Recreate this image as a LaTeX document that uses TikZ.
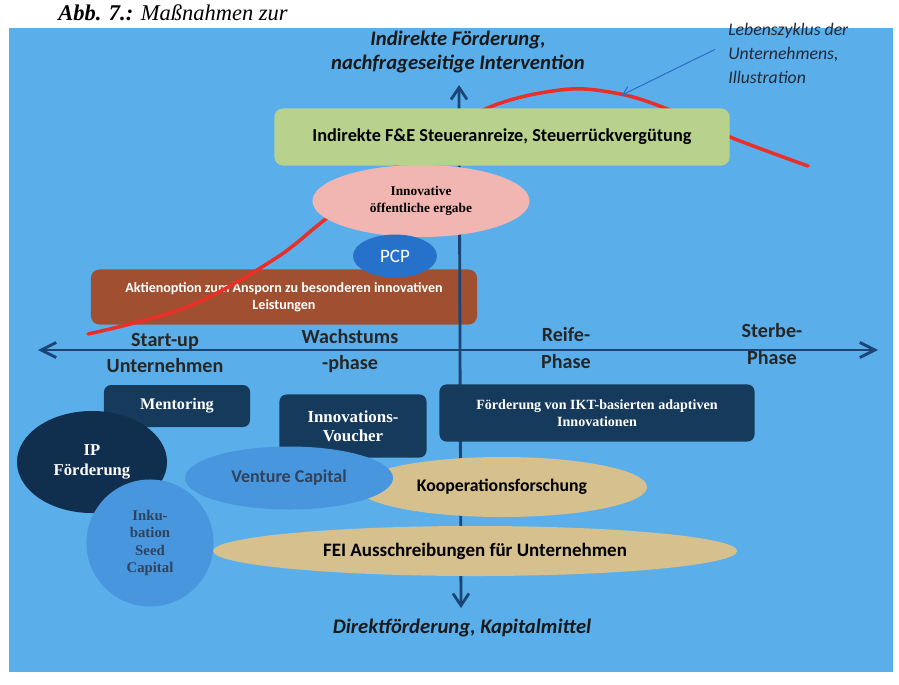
\documentclass[tikz,border=0pt]{standalone}
\usepackage{fontspec}
\setmainfont{Liberation Serif}
\setsansfont{Carlito}
\usetikzlibrary{arrows.meta, shapes.geometric}

\definecolor{bgblue}{RGB}{90,175,235}
\definecolor{axisblue}{RGB}{26,70,118}
\definecolor{navy}{RGB}{22,58,92}
\definecolor{darknavy}{RGB}{16,46,78}
\definecolor{leafgreen}{RGB}{184,210,142}
\definecolor{rosepink}{RGB}{242,182,178}
\definecolor{pcpblue}{RGB}{38,114,202}
\definecolor{rust}{RGB}{160,80,48}
\definecolor{sand}{RGB}{214,192,142}
\definecolor{midblue}{RGB}{72,150,222}
\definecolor{curvered}{RGB}{234,46,40}
\definecolor{slate}{RGB}{48,66,92}
\definecolor{notetext}{RGB}{34,40,56}
\definecolor{notearrowblue}{RGB}{40,110,196}

\tikzset{
  axistitle/.style={font=\sffamily\bfseries\itshape\fontsize{14.7}{17.5}\selectfont, text=black!90, align=center},
  phaselabel/.style={font=\sffamily\bfseries\fontsize{14.3}{19}\selectfont, text=black!85, align=center},
  axisline/.style={draw=axisblue, line width=2pt},
  lifecurve/.style={draw=curvered, line width=2.5pt, line cap=round},
  navybox/.style={fill=navy, rounded corners=5pt, text=white, align=center, inner sep=2pt},
  rustbox/.style={fill=rust, rounded corners=6pt, text=white, align=center,
    font=\sffamily\bfseries\fontsize{10}{12}\selectfont},
  sandoval/.style={ellipse, fill=sand, inner sep=0pt, text=black},
  blueoval/.style={ellipse, fill=midblue, inner sep=0pt, text=slate, align=center},
}

\begin{document}
\begin{tikzpicture}[x=0.025cm, y=-0.025cm]
  \useasboundingbox (0,0) rectangle (899,684);
  % page and blue panel
  \fill[white] (0,0) rectangle (899,684);
  \fill[bgblue] (9,28) rectangle (893,672);
  % caption above the panel
  \node[anchor=base west, inner sep=0pt, font=\itshape\fontsize{16}{18}\selectfont] (abb) at (58,20) {\textbf{Abb. 7.:} Maßnahmen zur};

  % axis titles
  \node[axistitle] (indirekt) at (458,52) {Indirekte Förderung,\\nachfrageseitige Intervention};
  \node[axistitle] (direkt) at (462,628) {Direktförderung, Kapitalmittel};

  % note for the curve
  \node[anchor=north west, align=left, inner sep=0pt, text=notetext,
    font=\sffamily\itshape\fontsize{12.6}{17}\selectfont] (lzyklus) at (728,23) {Lebenszyklus der\\Unternehmens,\\Illustration};

  % stock option box
  \node[rustbox, minimum width=9.65cm, minimum height=1.375cm] (aktie) at (284,297) {Aktienoption zum Ansporn zu besonderen innovativen\\Leistungen};

  % life cycle curve
  \draw[lifecurve] plot[smooth, tension=0.6] coordinates {(88,334) (187,307) (273,260) (327,218) (400,163) (483,110) (560,90) (615,93) (665,108) (730,137) (808,166)};
  \coordinate (curvept) at (622,95);
  \draw[notearrowblue, line width=0.7pt, -{Straight Barb[length=2mm, width=2.5mm]}] ([shift={(-13,-4)}]lzyklus.west) -- (curvept);

  % axes
  \coordinate (vtop) at (459,85);
  \coordinate (vbot) at (461,608);
  \coordinate (hleft) at (38,350);
  \coordinate (hright) at (878,350);
  \draw[axisline, {Straight Barb[length=3mm, width=4mm]}-{Straight Barb[length=3mm, width=4mm]}] (vbot) -- (vtop);
  \draw[axisline, {Straight Barb[length=3.75mm, width=3.75mm]}-{Straight Barb[length=3.75mm, width=3.75mm]}] (hleft) -- (hright);

  % phases
  \node[phaselabel] (startup) at (165,353) {Start-up\\Unternehmen};
  \node[phaselabel] (wachstum) at (350,351) {Wachstums\\-phase};
  \node[phaselabel] (reife) at (566,348) {Reife-\\Phase};
  \node[phaselabel] (sterbe) at (772,344) {Sterbe-\\Phase};

  % upper half: indirect measures
  \node[ellipse, fill=rosepink, minimum width=5.425cm, minimum height=1.8cm, inner sep=0pt, align=center,
    font=\bfseries\fontsize{9.5}{12.5}\selectfont] (vergabe) at (421,201) {Innovative\\öffentliche ergabe};
  \node[ellipse, fill=pcpblue, minimum width=2.1cm, minimum height=1.075cm, inner sep=0pt, text=white,
    font=\sffamily\fontsize{13.5}{15}\selectfont] (pcp) at (395,256) {PCP};
  \node[fill=leafgreen, rounded corners=6pt, minimum width=11.375cm, minimum height=1.425cm,
    font=\sffamily\bfseries\fontsize{13}{15}\selectfont] (steuer) at (502,137) {Indirekte F\&E Steueranreize, Steuerrückvergütung};

  % lower half: direct measures
  \node[navybox, minimum width=3.65cm, minimum height=1.05cm, font=\bfseries\fontsize{11.5}{13}\selectfont] (mentoring) at (177,406) {Mentoring};
  \node[ellipse, fill=darknavy, minimum width=3.75cm, minimum height=2.55cm, inner sep=0pt, text=white, align=center,
    font=\bfseries\fontsize{11.8}{14}\selectfont] (ip) at (92,462) {IP\\Förderung};
  \node[navybox, minimum width=3.675cm, minimum height=1.575cm, font=\bfseries\fontsize{12}{13.5}\selectfont] (voucher) at (353,426) {Innovations-\\Voucher};
  \node[navybox, minimum width=7.875cm, minimum height=1.425cm, font=\bfseries\fontsize{10}{12}\selectfont] (ikt) at (597,413) {Förderung von IKT-basierten adaptiven\\Innovationen};
  \node[sandoval, minimum width=7.25cm, minimum height=1.5cm, font=\sffamily\bfseries\fontsize{12.6}{14}\selectfont] (koop) at (502,487) {Kooperationsforschung};
  \node[sandoval, minimum width=13.1cm, minimum height=1.25cm, font=\sffamily\bfseries\fontsize{13.5}{15}\selectfont] (fei) at (475,551) {FEI Ausschreibungen für Unternehmen};
  \node[blueoval, minimum width=3.175cm, minimum height=3.175cm, font=\bfseries\fontsize{10.5}{12.5}\selectfont] (inkubation) at (150,543) {Inku-\\bation\\Seed\\Capital};
  \node[blueoval, minimum width=5.2cm, minimum height=1.575cm, font=\sffamily\bfseries\fontsize{12.8}{14}\selectfont] (venture) at (289,478) {Venture Capital};
\end{tikzpicture}
\end{document}
